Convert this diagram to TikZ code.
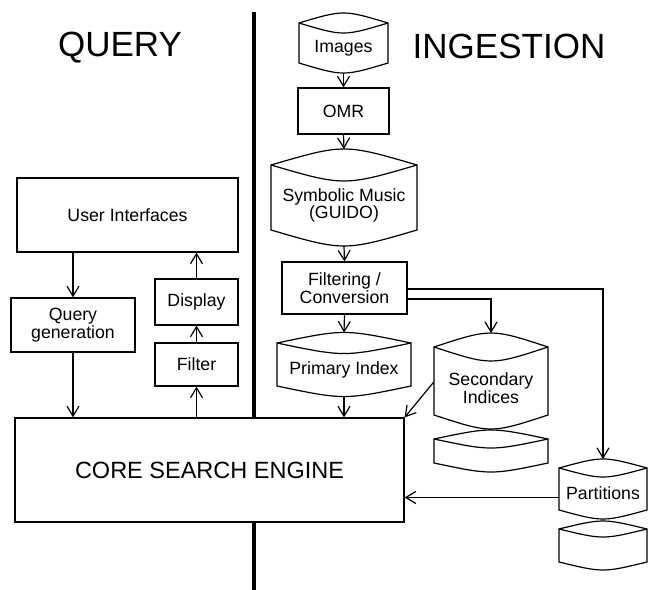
\documentclass[tikz,border=0pt]{standalone}
\usepackage{fontspec}
\setmainfont{Liberation Sans}
\usetikzlibrary{arrows.meta}
\newcommand{\labfont}{\fontsize{17.7}{17.5}\selectfont}
\newcommand{\stor}[7]{%
  \pgfmathsetmacro{\stX}{(#2+#3)/2}%
  \pgfmathsetmacro{\stY}{(#4+#6+#5)/2}%
  \pgfmathsetmacro{\stC}{4*#6/3}%
  \draw[thin line, fill=white] (#2,#4) .. controls (\stX,#4-\stC) .. (#3,#4) -- (#3,#5) .. controls (\stX,#5+\stC) .. (#2,#5) -- cycle;
  \draw[thin line] (#2,#4) .. controls (\stX,#4+\stC) .. (#3,#4);
  \node[inner sep=0pt, minimum width={(#3-#2)*1pt}, minimum height={(#5-#4-#6)*1pt}, align=center, font=\labfont] (#1) at (\stX,\stY) {#7};
  \coordinate (#1-top) at (\stX,#4-#6);
  \coordinate (#1-bot) at (\stX,#5+#6);
}
\tikzset{
  thin line/.style={line width=1.2pt},
  box/.style={draw, line width=1.2pt, fill=white, inner sep=0pt, align=center, font=\labfont},
  arr/.style={-{Straight Barb[length=10pt,width=12pt]}, line width=1.2pt},
  title/.style={font=\fontsize{35}{40}\selectfont, anchor=base, inner sep=0pt}
}
\begin{document}
\begin{tikzpicture}[x=1pt, y=-1pt]
\useasboundingbox (0,0) rectangle (649,590);
% divider
\coordinate (divtop) at (254,12);
\coordinate (divbot) at (254,590);
\draw[line width=4pt] (divtop) -- (divbot);
% titles
\node[title] (tq) at (120,56) {QUERY};
\node[title] (ti) at (509,58) {INGESTION};
% query side
\node[box, minimum width=389pt, minimum height=104pt, font=\fontsize{23.5}{26}\selectfont] (core) at (209.5,470) {CORE SEARCH ENGINE};
\node[box, minimum width=221pt, minimum height=74pt] (ui) at (127.5,215) {User Interfaces};
\node[box, minimum width=124pt, minimum height=54pt] (query) at (73,325) {Query\\generation};
\node[box, minimum width=83pt, minimum height=46pt] (display) at (196.5,302) {Display};
\node[box, minimum width=83pt, minimum height=43pt] (filter) at (196.5,364.5) {Filter};
\draw[arr] (query.north |- ui.south) -- (query.north);
\draw[arr] (query.south) -- (query.south |- core.north);
\draw[arr] (filter.south |- core.north) -- (filter.south);
\draw[arr] (filter.north) -- (display.south);
\draw[arr] (display.north) -- (display.north |- ui.south);
% ingestion side
\stor{images}{299}{388}{23}{63}{10}{Images}
\node[box, minimum width=91pt, minimum height=46pt] (omr) at (343.5,111) {OMR};
\stor{sym}{271}{417}{165}{230}{16}{Symbolic Music\\(GUIDO)}
\node[box, minimum width=125pt, minimum height=52pt] (filt) at (344.5,288) {Filtering /\\Conversion};
\stor{prim}{277}{411}{343}{386}{10.5}{Primary Index}
\stor{sec}{434}{548}{347}{415}{14}{Secondary\\Indices}
\stor{secb}{434}{548}{439}{463}{9}{}
\stor{part}{559}{647}{468}{510}{9}{Partitions}
\stor{partb}{559}{647}{529}{562}{8}{}
\draw[arr] (images-bot) -- (omr.north);
\draw[arr] (omr.south) -- (sym-top);
\draw[arr] (sym-bot) -- (filt.north);
\draw[arr] (filt.south) -- (prim-top);
\draw[arr] (prim-bot) -- (prim-bot |- core.north);
\draw[arr] ([yshift=-11pt]filt.east) -| (sec-top);
\draw[arr] ([yshift=-1pt]filt.east) -| (part-top);
\draw[arr] ([yshift=6pt]sec.west) -- (core.north east);
\draw[arr] ([yshift=-4pt]part.west) -- ([yshift=-4pt]part.west -| core.east);
\end{tikzpicture}
\end{document}
